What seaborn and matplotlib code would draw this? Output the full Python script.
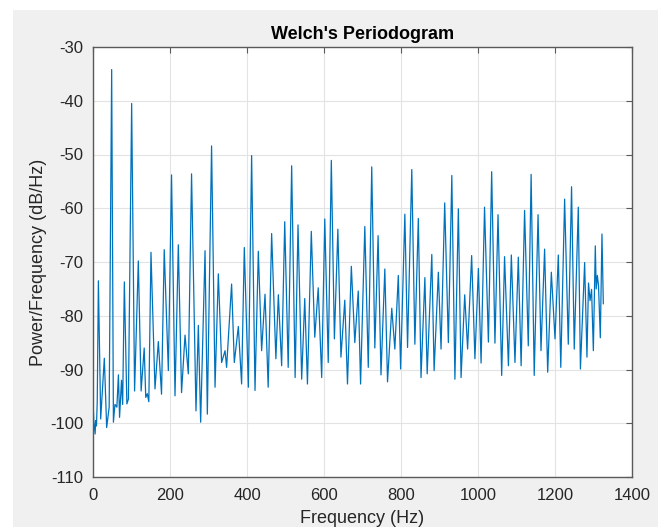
import numpy as np
import pandas as pd
import seaborn as sns
import matplotlib.pyplot as plt
from matplotlib.patches import Rectangle

# Welch PSD estimate (peaks and troughs)
freq_hz = [
    0, 2, 4, 5.5, 7, 9, 11, 14, 20, 29.4, 35.5, 42, 48.5, 53, 57, 62, 66, 69, 74, 77,
    81.4, 88, 92, 100.4, 108, 117.7, 125, 133, 137, 141, 145, 150.6, 161, 169.7, 178,
    185, 195.7, 204, 213, 221.6, 230, 239, 247.6, 256, 267.5, 273.6, 279.6, 291, 297,
    308, 317, 325.5, 334, 343, 347, 360, 367, 377.5, 386, 393, 403.5, 412, 420.8,
    429.4, 438, 446.8, 455, 464, 475, 481.4, 490, 498, 507, 516, 525, 532.5, 542,
    550, 557, 567, 576, 585, 594, 602, 611, 619, 627, 636, 644, 654, 661, 671, 680,
    689, 695, 706, 715, 724, 732, 740.5, 748, 758, 765, 776, 784, 793, 799, 810, 817,
    828, 836, 845, 852, 862, 868, 880, 886, 897, 904, 913.5, 923, 932, 940, 949, 956,
    965.5, 973, 983.5, 992, 1001, 1008, 1017, 1027, 1035.5, 1044, 1052, 1061.5, 1069,
    1079, 1086.6, 1096, 1104.7, 1112, 1121, 1130.6, 1138, 1146, 1156, 1163.6, 1173,
    1181, 1190.5, 1200, 1208.6, 1215, 1225, 1234.5, 1243, 1250, 1260.5, 1266, 1277,
    1283, 1287, 1291, 1295, 1299.6, 1304.7, 1307, 1310, 1313, 1317.7, 1322, 1325.5,
]
power_db = [
    -95.8, -99.5, -101, -102, -99.5, -100.5, -96, -73.5, -99.2, -87.9, -100.8, -97,
    -34.2, -99.8, -96.5, -97, -91, -98.9, -92, -96.5, -73.7, -96.4, -95.5, -40.5,
    -94, -69.8, -94, -86, -95.2, -94.5, -96, -68.2, -93.6, -84.8, -94.6, -67.7,
    -90.2, -53.8, -94.9, -66.8, -94.3, -83.6, -90.8, -53.6, -97.7, -81.8, -99.8,
    -67.9, -98.3, -48.4, -93.3, -72.2, -88.7, -86.5, -89.6, -74.1, -88.7, -82,
    -92.7, -67.3, -93.3, -50.2, -93.9, -68, -86.5, -76, -93.3, -64.7, -88, -76.1,
    -89.3, -62.5, -89.6, -52.1, -91.5, -63.1, -91.8, -76.8, -92.7, -64.3, -84,
    -74.8, -91.5, -62, -88.7, -51.1, -84.3, -63.9, -87.7, -77.1, -92.7, -70.8, -85,
    -75.4, -92.7, -63.4, -89.6, -52.3, -86, -65.1, -91, -71.3, -92.3, -78.6, -86.2,
    -72.5, -89.9, -61.1, -85.9, -52.8, -85.3, -61.9, -91.5, -72.9, -90.8, -68.6,
    -90.2, -71.9, -86.2, -59, -85, -53.9, -91.8, -60.1, -91.5, -76.1, -86.2, -68.8,
    -88, -71.2, -88.8, -59.8, -84.9, -53.2, -85.1, -61.2, -91.1, -69, -89.3, -68.7,
    -88.7, -69.1, -89.3, -60.4, -85.6, -53.7, -91.1, -61.2, -86.5, -67.6, -90.5,
    -71.9, -84.3, -68.7, -89.6, -58.3, -85.3, -56, -86.2, -59.8, -89.9, -70.1,
    -87.7, -73.9, -77.2, -75.1, -86.5, -67, -75, -72.5, -74.4, -84.1, -64.8, -77.8,
]

x_ticks = [0, 200, 400, 600, 800, 1000, 1200, 1400]
y_ticks = [-110, -100, -90, -80, -70, -60, -50, -40, -30]

df = pd.DataFrame({"Frequency (Hz)": freq_hz, "Power": power_db})

sns.set_theme(style="whitegrid")
plt.rcParams['font.family'] = ['Liberation Sans', 'DejaVu Sans']
plt.rcParams['axes.unicode_minus'] = False

fig = plt.figure(figsize=(6.58, 5.27), dpi=100, facecolor='white')
# matlab-ish grey figure area
fig.patches.append(Rectangle((13 / 658, 0), 1, 1 - 10 / 527, transform=fig.transFigure,
                             facecolor='#f0f0f0', edgecolor='none', zorder=-5))
ax = fig.add_axes([93 / 658, 1 - 477 / 527, 539 / 658, 430 / 527])
ax.set_facecolor('white')

sns.lineplot(data=df, x="Frequency (Hz)", y="Power", ax=ax, color='#0072BD',
             linewidth=0.9, estimator=None)

ax.set_xlim(0, 1400)
ax.set_ylim(-110, -30)
ax.set_xticks(x_ticks)
ax.set_yticks(y_ticks)
ax.grid(True, color='#e3e3e3', linewidth=0.8)
for s in ax.spines.values():
    s.set_visible(True)
    s.set_color('#5a5a5a')
    s.set_linewidth(1.0)
ax.tick_params(direction='in', length=4, width=0.8, color='#5a5a5a',
               top=True, right=True, labelsize=12, labelcolor='#262626')
ax.tick_params(axis='y', pad=7)
ax.tick_params(axis='x', pad=8)

ax.set_title("Welch's Periodogram", fontsize=13, fontweight='bold', pad=6, color='black')
ax.set_xlabel('Frequency (Hz)', fontsize=13, labelpad=5, color='#262626')
ax.set_ylabel('Power/Frequency (dB/Hz)', fontsize=13, labelpad=2, color='#262626')

fig.savefig('out.png', dpi=100, facecolor=fig.get_facecolor())
